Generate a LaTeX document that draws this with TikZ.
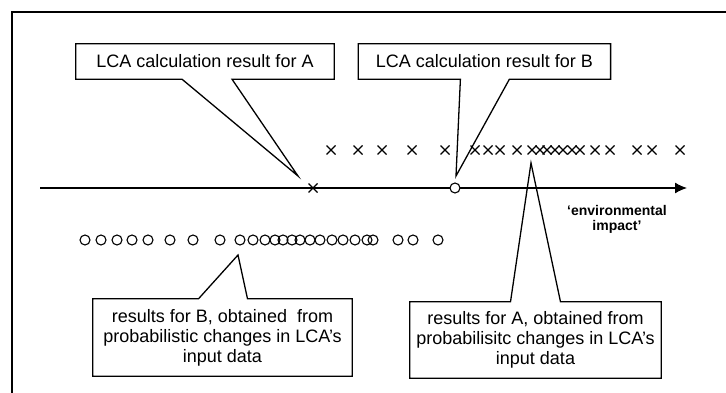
\documentclass[tikz,border=0pt]{standalone}
\usepackage{fontspec}
\setmainfont{Liberation Sans}
\usetikzlibrary{positioning,arrows.meta}

\begin{document}
\begin{tikzpicture}[x=1pt, y=-1pt,
    box/.style={align=center, inner sep=0pt, minimum height=35pt, font=\fontsize{18}{20}\selectfont},
    outline/.style={line width=1.3pt, line join=miter},
    crossmark/.style={line width=1.2pt},
    circmark/.style={line width=1.1pt}]
	\useasboundingbox (0,0) rectangle (726,393);
	\draw[outline] (726,12) -- (12,12) -- (12,393);

	% axis
	\coordinate (start) at (40,188);
	\coordinate (end) at (687,188);
	\draw[outline, -{Latex[length=12pt,width=11pt]}] (start) -- (end);
	\node[font=\bfseries\fontsize{14}{15}\selectfont, align=center] (impact) at (617,219.5) {`environmental\\impact'};

	% single results
	\coordinate (calcA) at (313,188);
	\draw[crossmark] ([shift={(-4.5,-4.5)}]calcA) -- ([shift={(4.5,4.5)}]calcA)
	                 ([shift={(-4.5,4.5)}]calcA) -- ([shift={(4.5,-4.5)}]calcA);
	\node[circle, draw, circmark, fill=white, minimum size=10pt, inner sep=0pt] (calcB) at (455,188) {};

	% probabilistic results
	\foreach \x in {331,358,382,412,445,475,488,500,517,532,540,547,555,563,572,580,595,610,637,652,680}
		\draw[crossmark] (\x-4.5,145.5) -- (\x+4.5,154.5) (\x-4.5,154.5) -- (\x+4.5,145.5);
	\foreach \x in {85,101,117,132,148,170,193,220,240,253,265,275,283,292,300,310,320,332,343,355,367,373,398,413,438}
		\draw[circmark] (\x,240) circle[radius=5pt];

	% callouts
	\node[box, minimum width=258pt] (A) at (205,61.5) {LCA calculation result for A};
	\node[box, minimum width=252pt, right=24pt of A] (B) {LCA calculation result for B};
	\node[box, minimum width=259pt, minimum height=77pt] (RB) at (222.5,337.5) {results for B, obtained\ \ from\\probabilistic changes in LCA's\\input data};
	\node[box, minimum width=251pt, minimum height=76pt] (RA) at (535.5,340) {results for A, obtained from\\probabilisitc changes in LCA's\\input data};

	\coordinate (tipA) at (298,176);
	\coordinate (tipB) at (456,176);
	\coordinate (tipRB) at (238,255);
	\coordinate (tipRA) at (531,163);

	\draw[outline] (A.south west) -- (A.north west) -- (A.north east) -- (A.south east)
		-- ([xshift=27pt]A.south) -- (tipA) -- ([xshift=-23pt]A.south) -- cycle;
	\draw[outline] (B.south west) -- (B.north west) -- (B.north east) -- (B.south east)
		-- ([xshift=25pt]B.south) -- (tipB) -- ([xshift=-24pt]B.south) -- cycle;
	\draw[outline] (RB.north west) -- ([xshift=-24pt]RB.north) -- (tipRB) -- ([xshift=25pt]RB.north)
		-- (RB.north east) -- (RB.south east) -- (RB.south west) -- cycle;
	\draw[outline] (RA.north west) -- ([xshift=-25pt]RA.north) -- (tipRA) -- ([xshift=25pt]RA.north)
		-- (RA.north east) -- (RA.south east) -- (RA.south west) -- cycle;
\end{tikzpicture}
\end{document}
